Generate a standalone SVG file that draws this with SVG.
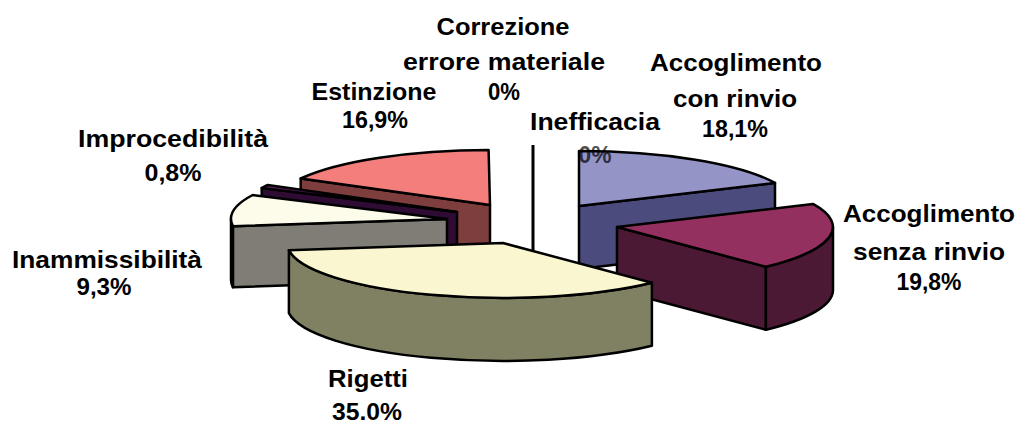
<svg xmlns="http://www.w3.org/2000/svg" width="1018" height="425" viewBox="0 0 1018 425">
<style>
.s{stroke:#000;stroke-width:2.5;stroke-linejoin:round}
.t{font-family:"Liberation Sans",Arial,sans-serif;font-weight:bold;font-size:24px;fill:#000;text-anchor:middle}
</style>
<rect width="1018" height="425" fill="#fff"/>
<g id="connectors">
<line x1="533" y1="145" x2="533" y2="266" stroke="#000" stroke-width="3"/>
</g>
<g id="correzione-errore-materiale">
<text class="t" x="503" y="35" textLength="133" lengthAdjust="spacingAndGlyphs">Correzione</text>
<text class="t" x="504" y="70" textLength="202" lengthAdjust="spacingAndGlyphs">errore materiale</text>
<text class="t" x="504" y="100" textLength="32" lengthAdjust="spacingAndGlyphs">0%</text>
</g>
<g id="estinzione">
<path class="s" fill="#7e3e3e" d="M490,205 L300.7,178.5 L300.7,241.5 L490,268 Z"/>
<path class="s" fill="#f47e7c" d="M490,205 L300.7,178.5 A216,55 0 0,1 488.6,150 Z"/>
<text class="t" x="374" y="100" textLength="125" lengthAdjust="spacingAndGlyphs">Estinzione</text>
<text class="t" x="375" y="128" textLength="66" lengthAdjust="spacingAndGlyphs">16,9%</text>
</g>
<g id="improcedibilita">
<path class="s" fill="#2e0c33" d="M457,212 L261.7,188 L261.7,251 L457,275 Z"/>
<path class="s" fill="#66206a" d="M457,212 L261.7,188 A216,55 0 0,1 267.7,185 Z"/>
<text class="t" x="173" y="147" textLength="190" lengthAdjust="spacingAndGlyphs">Improcedibilità</text>
<text class="t" x="173" y="181" textLength="57" lengthAdjust="spacingAndGlyphs">0,8%</text>
</g>
<g id="inammissibilita">
<path class="s" fill="#7f7d75" d="M447,219 L232.9,226.2 L232.9,287.2 L447,280 Z"/>
<path class="s" fill="#7f7d75" d="M232.9,226.2 A216,55 0 0,1 231,219 L231,280 A216,55 0 0,0 232.9,287.2 Z"/>
<path class="s" fill="#fdfbea" d="M447,219 L232.9,226.2 A216,55 0 0,1 252.7,195 Z"/>
<text class="t" x="107" y="268" textLength="190" lengthAdjust="spacingAndGlyphs">Inammissibilità</text>
<text class="t" x="104" y="295" textLength="55" lengthAdjust="spacingAndGlyphs">9,3%</text>
</g>
<g id="accoglimento-con-rinvio">
<path class="s" fill="#4b4b7e" d="M579,206 L775,182.9 L775,245.9 L579,269 Z"/>
<path class="s" fill="#9494c6" d="M579,206 L579,151 A216,55 0 0,1 775,182.9 Z"/>
<text class="t" x="736" y="71" textLength="172" lengthAdjust="spacingAndGlyphs">Accoglimento</text>
<text class="t" x="735" y="107" textLength="124" lengthAdjust="spacingAndGlyphs">con rinvio</text>
<text class="t" x="735" y="137" textLength="66" lengthAdjust="spacingAndGlyphs">18,1%</text>
</g>
<g id="inefficacia">
<text class="t" x="595" y="130" textLength="130" lengthAdjust="spacingAndGlyphs">Inefficacia</text>
<text class="t" x="595" y="163" textLength="33" lengthAdjust="spacingAndGlyphs" fill-opacity="0.7">0%</text>
</g>
<g id="accoglimento-senza-rinvio">
<path class="s" fill="#4b1933" d="M617,227 L765.9,266.8 L765.9,329.8 L617,290 Z"/>
<path class="s" fill="#4b1933" d="M833,227 A216,55 0 0,1 765.9,266.8 L765.9,329.8 A216,55 0 0,0 833,290 Z"/>
<path class="s" fill="#93305f" d="M617,227 L813,203.9 A216,55 0 0,1 765.9,266.8 Z"/>
<text class="t" x="929" y="222" textLength="172" lengthAdjust="spacingAndGlyphs">Accoglimento</text>
<text class="t" x="929" y="260" textLength="152" lengthAdjust="spacingAndGlyphs">senza rinvio</text>
<text class="t" x="929" y="290" textLength="65" lengthAdjust="spacingAndGlyphs">19,8%</text>
</g>
<g id="rigetti">
<path class="s" fill="#808062" d="M651.9,282.8 A216,55 0 0,1 288.9,250.2 L288.9,313.2 A216,55 0 0,0 651.9,345.8 Z"/>
<path class="s" fill="#faf6d0" d="M503,243 L651.9,282.8 A216,55 0 0,1 288.9,250.2 Z"/>
<text class="t" x="368" y="387" textLength="80" lengthAdjust="spacingAndGlyphs">Rigetti</text>
<text class="t" x="367" y="420" textLength="70" lengthAdjust="spacingAndGlyphs">35.0%</text>
</g>
</svg>
